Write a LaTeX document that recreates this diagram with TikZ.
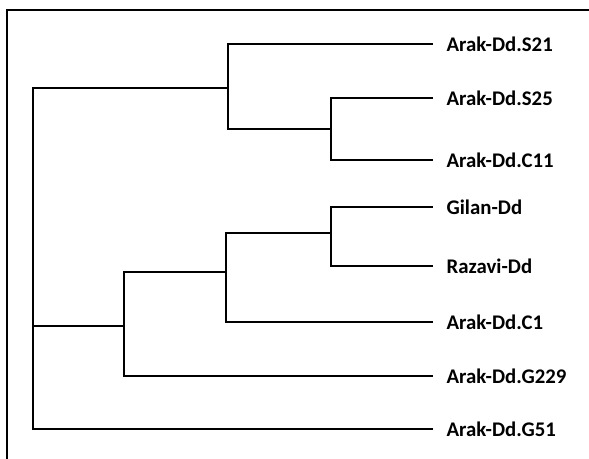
\documentclass[tikz,border=0pt]{standalone}
\usepackage{fontspec}
\setsansfont{Carlito}
\usetikzlibrary{positioning}

\begin{document}
\begin{tikzpicture}[x=0.5pt, y=-0.5pt, node distance=6.6pt,
  branch/.style = {draw, line width=0.65pt},
  leaf/.style = {inner sep=0pt, anchor=west, font=\sffamily\bfseries\fontsize{10.4}{12}\selectfont}]

\useasboundingbox (0,0) rectangle (589,459);
\draw[line width=1.1pt] (7,459) -- (7,10) -- (589,10);

% Nodes
\coordinate (s21) at (433,44);
\coordinate (s25) at (433,98);
\coordinate (c11) at (433,160);
\coordinate (gilan) at (433,207);
\coordinate (razavi) at (433,266);
\coordinate (c1) at (433,322);
\coordinate (g229) at (433,376);
\coordinate (g51) at (433,429);

\coordinate (sc) at (331,129);
\coordinate (ssc) at (228,88);
\coordinate (gr) at (331,233);
\coordinate (grc) at (226,272);
\coordinate (grcg) at (124,326);
\coordinate (root) at (33,326);

\node (labS21) [leaf, right=of s21] {Arak-Dd.S21};
\node (labS25) [leaf, right=of s25] {Arak-Dd.S25};
\node (labC11) [leaf, right=of c11] {Arak-Dd.C11};
\node (labGilan) [leaf, right=of gilan] {Gilan-Dd};
\node (labRazavi) [leaf, right=of razavi] {Razavi-Dd};
\node (labC1) [leaf, right=of c1] {Arak-Dd.C1};
\node (labG229) [leaf, right=of g229] {Arak-Dd.G229};
\node (labG51) [leaf, right=of g51] {Arak-Dd.G51};

% Branches
\draw [branch] (sc) |- (s25);
\draw [branch] (sc) |- (c11);
\draw [branch] (ssc) |- (s21);
\draw [branch] (ssc) |- (sc);
\draw [branch] (gr) |- (gilan);
\draw [branch] (gr) |- (razavi);
\draw [branch] (grc) |- (gr);
\draw [branch] (grc) |- (c1);
\draw [branch] (grcg) |- (grc);
\draw [branch] (grcg) |- (g229);
\draw [branch] (root) |- (ssc);
\draw [branch] (root) |- (g51);
\draw [branch] (root) -- (grcg);
\end{tikzpicture}
\end{document}
